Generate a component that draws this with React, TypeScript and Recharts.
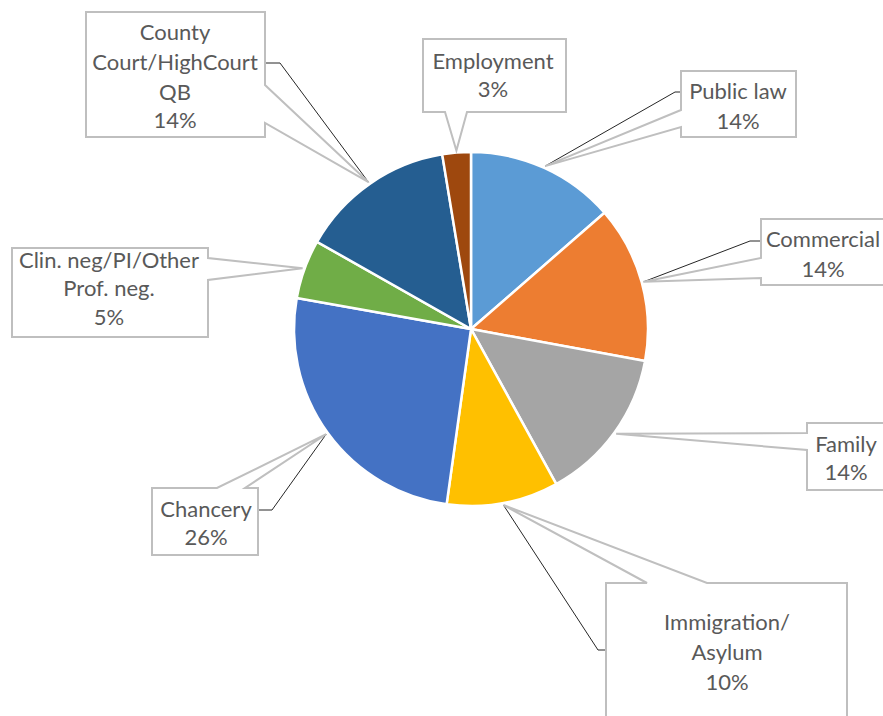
import React from 'react';
import { PieChart, Pie, Cell } from 'recharts';

const categories = [
  'Public law',
  'Commercial',
  'Family',
  'Immigration/ Asylum',
  'Chancery',
  'Clin. neg/PI/Other Prof. neg.',
  'County Court/HighCourt QB',
  'Employment',
];
const values = [13.6, 14.3, 14.1, 10.2, 25.6, 5.4, 14.2, 2.6];
const labelLines = [
  ['Public law'],
  ['Commercial'],
  ['Family'],
  ['Immigration/', 'Asylum'],
  ['Chancery'],
  ['Clin. neg/PI/Other', 'Prof. neg.'],
  ['County', 'Court/HighCourt', 'QB'],
  ['Employment'],
];
const colors = ['#5B9BD5', '#ED7D31', '#A5A5A5', '#FFC000', '#4472C4', '#70AD47', '#255E91', '#9E480E'];

const data = categories.map((name, i) => ({ name, value: values[i] }));

type Layout = {
  box: [number, number, number, number];
  textX: number;
  lineY: number[];
  side: 'left' | 'right' | 'top' | 'bottom';
  a: number;
  b: number;
  leader?: [number, number][];
};

// label callout placement (layout only)
const layouts: Layout[] = [
  { box: [681, 71, 115, 66], textX: 738, lineY: [92, 122], side: 'left', a: 110, b: 127, leader: [[675, 92], [681, 92]] },
  { box: [761, 219, 135, 66], textX: 823, lineY: [240, 270], side: 'left', a: 258, b: 278, leader: [[750, 241], [761, 241]] },
  { box: [807, 423, 95, 67], textX: 846, lineY: [445, 473], side: 'left', a: 433, b: 450 },
  { box: [606, 583, 241, 150], textX: 727, lineY: [623, 653, 683], side: 'top', a: 647, b: 707, leader: [[598, 650], [606, 650]] },
  { box: [152, 488, 106, 67], textX: 206, lineY: [510, 538], side: 'top', a: 217, b: 245, leader: [[272, 510], [258, 510]] },
  { box: [12, 248, 196, 89], textX: 109, lineY: [261, 289, 318], side: 'right', a: 258, b: 280 },
  { box: [86, 12, 179, 125], textX: 175, lineY: [33, 63, 93, 121], side: 'right', a: 85, b: 123, leader: [[280, 63], [266, 63]] },
  { box: [423, 39, 143, 73], textX: 493, lineY: [62, 90], side: 'bottom', a: 445, b: 467 },
];

const RAD = Math.PI / 180;

function calloutPath(l: Layout, tx: number, ty: number) {
  const [x, y, w, h] = l.box;
  const r = x + w;
  const btm = y + h;
  switch (l.side) {
    case 'left':
      return `M${x},${y} H${r} V${btm} H${x} V${l.b} L${tx},${ty} L${x},${l.a} Z`;
    case 'right':
      return `M${x},${y} H${r} V${l.a} L${tx},${ty} L${r},${l.b} V${btm} H${x} Z`;
    case 'top':
      return `M${x},${y} H${l.a} L${tx},${ty} L${l.b},${y} H${r} V${btm} H${x} Z`;
    default:
      return `M${x},${y} H${r} V${btm} H${l.b} L${tx},${ty} L${l.a},${btm} H${x} Z`;
  }
}

const renderLabel = (props: any) => {
  const { cx, cy, midAngle, outerRadius, index, percent } = props;
  const l = layouts[index];
  const rr = outerRadius + 2;
  const tx = cx + rr * Math.cos(-midAngle * RAD);
  const ty = cy + rr * Math.sin(-midAngle * RAD);
  const lines = [...labelLines[index], `${Math.round(percent * 100)}%`];
  return (
    <g key={`lbl-${index}`}>
      {l.leader && (
        <polyline
          points={`${tx},${ty} ${l.leader.map((p) => p.join(',')).join(' ')}`}
          fill="none"
          stroke="#262626"
          strokeWidth={1}
        />
      )}
      <path d={calloutPath(l, tx, ty)} fill="#ffffff" stroke="#BFBFBF" strokeWidth={2} />
      {lines.map((t, k) => (
        <text
          key={k}
          x={l.textX}
          y={l.lineY[k] - 1.5}
          textAnchor="middle"
          dominantBaseline="central"
          fill="#595959"
          fontSize={22}
          fontFamily="Lato"
        >
          {t}
        </text>
      ))}
    </g>
  );
};

export default function App() {
  return (
    <div style={{ position: 'absolute', left: 0, top: 0, width: 883, height: 716, background: '#fff', overflow: 'hidden' }}>
      <PieChart width={883} height={716} margin={{ top: 0, right: 0, bottom: 0, left: 0 }}>
        <Pie
          data={data}
          dataKey="value"
          nameKey="name"
          cx={471}
          cy={329}
          outerRadius={177}
          startAngle={90}
          endAngle={-270}
          stroke="#ffffff"
          strokeWidth={2.5}
          label={renderLabel}
          labelLine={false}
          isAnimationActive={false}
        >
          {data.map((d, i) => (
            <Cell key={d.name} fill={colors[i]} />
          ))}
        </Pie>
      </PieChart>
    </div>
  );
}
